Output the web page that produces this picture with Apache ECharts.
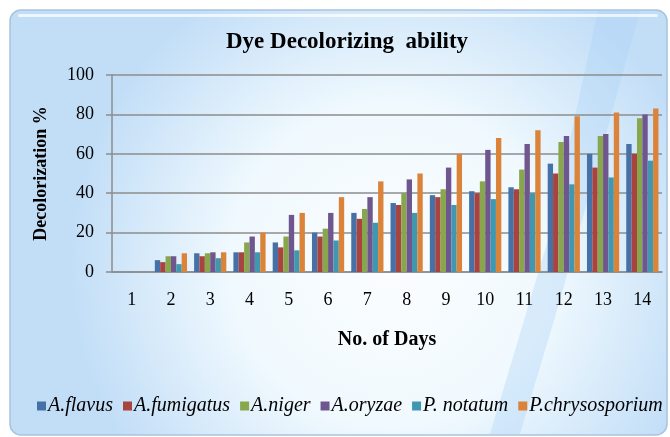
<!DOCTYPE html>
<html>
<head>
<meta charset="utf-8">
<script src="https://cdn.jsdelivr.net/npm/echarts@6/dist/echarts.min.js"></script>
<style>
  html, body { margin: 0; padding: 0; background: #fff; }
  #main { width: 670px; height: 437px; }
</style>
</head>
<body>
<div id="main"></div>
<script type="text/javascript">
  // data
  var days = ['1', '2', '3', '4', '5', '6', '7', '8', '9', '10', '11', '12', '13', '14'];
  var flavus = [0, 6, 9.5, 10, 15, 20, 30, 35, 39, 41, 43, 55, 60, 65];
  var fumigatus = [0, 5, 8, 10, 12.5, 18, 27, 34, 38, 40, 42, 50, 53, 60];
  var niger = [0, 8, 9.5, 15, 18, 22, 32, 40, 42, 46, 52, 66, 69, 78];
  var oryzae = [0, 8, 10, 18, 29, 30, 38, 47, 53, 62, 65, 69, 70, 80];
  var notatum = [0, 4, 7, 10, 11, 16, 25, 30, 34, 37, 40, 44.5, 48, 56.5];
  var chrysosporium = [0, 9.5, 10, 20, 30, 38, 46, 50, 60, 68, 72, 79, 81, 83];
  var yTicks = [0, 20, 40, 60, 80, 100];

  var serif = '"Liberation Serif", "DejaVu Serif", serif';
  var gridColor = '#8c8c8c';

  var dom = document.getElementById('main');
  var myChart = echarts.init(dom);

  function bar(name, data, color) {
    return {
      name: name,
      type: 'bar',
      data: data,
      barGap: '0%',
      barCategoryGap: '18%',
      itemStyle: { color: color },
      emphasis: { disabled: true }
    };
  }

  var option = {
    animation: false,
    textStyle: { fontFamily: serif },
    graphic: [
      {
        type: 'rect',
        z: -10,
        shape: { x: 10, y: 10, width: 657, height: 425, r: 11 },
        style: {
          fill: {
            type: 'radial', x: 0.58, y: 0.6, r: 0.75,
            colorStops: [
              { offset: 0, color: '#fbfdff' },
              { offset: 0.5, color: '#f0f9fe' },
              { offset: 1, color: '#c2def7' }
            ]
          },
          stroke: '#a8c4dd',
          lineWidth: 1.5
        }
      },
      {
        type: 'polygon',
        z: -9,
        shape: { points: [[598, 11], [640, 11], [560, 300], [520, 434], [490, 434], [548, 240]] },
        style: { fill: 'rgba(170,210,245,0.35)' }
      },
      {
        type: 'rect',
        z: -9,
        shape: { x: 18, y: 14, width: 640, height: 3, r: 1.5 },
        style: { fill: 'rgba(255,255,255,0.7)' }
      }
    ],
    title: {
      text: 'Dye Decolorizing  ability',
      left: 221,
      top: 26,
      textStyle: { fontFamily: serif, fontSize: 23, fontWeight: 'bold', color: '#000' }
    },
    legend: {
      top: 391,
      left: 32,
      itemWidth: 9,
      itemHeight: 9,
      itemGap: 10,
      icon: 'rect',
      textStyle: { fontFamily: serif, fontSize: 20, fontStyle: 'italic', color: '#000', padding: [0, 0, 0, -3] },
      data: ['A.flavus', 'A.fumigatus', 'A.niger', 'A.oryzae', 'P. notatum', 'P.chrysosporium']
    },
    grid: { left: 112, right: 8, top: 75, bottom: 165 },
    xAxis: {
      type: 'category',
      data: days,
      name: 'No. of Days',
      nameLocation: 'middle',
      nameGap: 58,
      nameTextStyle: { fontFamily: serif, fontSize: 20, fontWeight: 'bold', color: '#000' },
      axisLine: { show: true, lineStyle: { color: gridColor, width: 1.5 } },
      axisTick: { show: false },
      axisLabel: { fontFamily: serif, fontSize: 18, color: '#000', margin: 19 }
    },
    yAxis: {
      type: 'value',
      min: yTicks[0],
      max: yTicks[yTicks.length - 1],
      interval: yTicks[1] - yTicks[0],
      name: 'Decolorization %',
      nameLocation: 'middle',
      nameGap: 62,
      nameTextStyle: { fontFamily: serif, fontSize: 18, fontWeight: 'bold', color: '#000' },
      axisLine: { show: true, lineStyle: { color: gridColor, width: 1.5 } },
      axisTick: { show: true, inside: false, length: 6, lineStyle: { color: gridColor, width: 1.5 } },
      axisLabel: { fontFamily: serif, fontSize: 18, color: '#000', margin: 18 },
      splitLine: { show: true, lineStyle: { color: gridColor, width: 1.5 } }
    },
    series: [
      bar('A.flavus', flavus, '#4571a6'),
      bar('A.fumigatus', fumigatus, '#a9433f'),
      bar('A.niger', niger, '#88a64b'),
      bar('A.oryzae', oryzae, '#6f568e'),
      bar('P. notatum', notatum, '#3f98b0'),
      bar('P.chrysosporium', chrysosporium, '#dc833a')
    ]
  };

  if (option && typeof option === 'object') {
    myChart.setOption(option, true);
  }
</script>
</body>
</html>
